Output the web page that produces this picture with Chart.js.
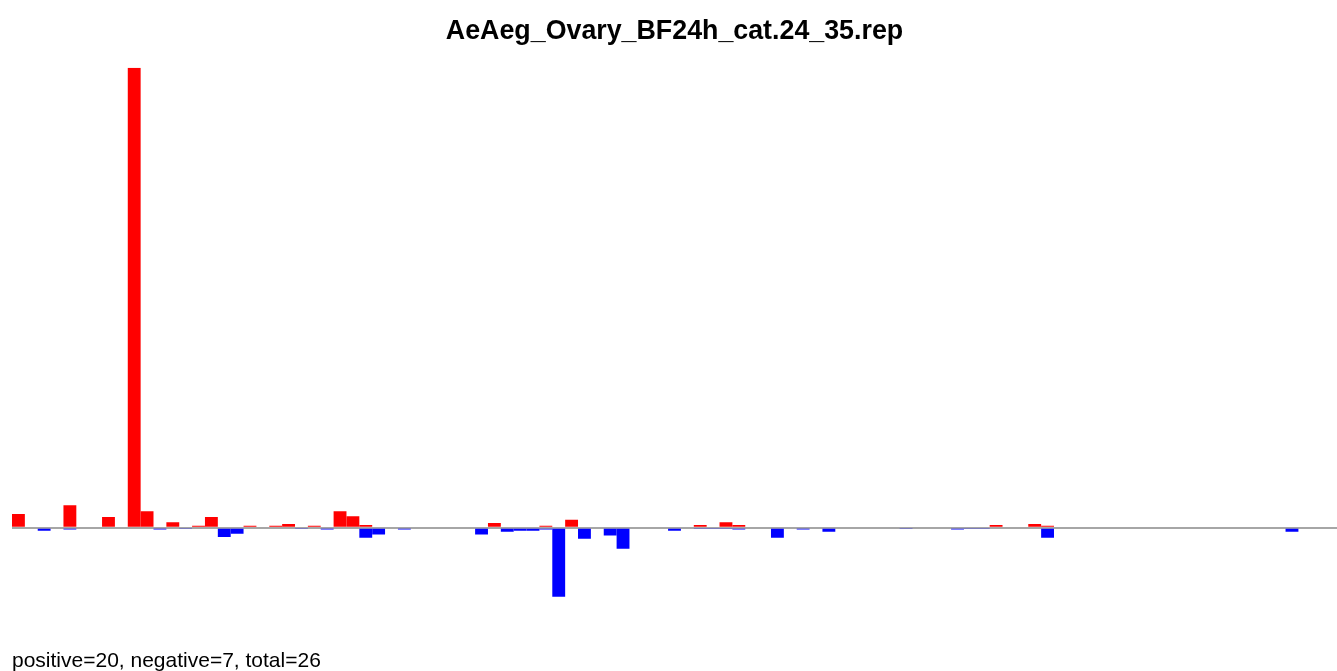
<!DOCTYPE html>
<html>
<head>
<meta charset="utf-8">
<title>AeAeg_Ovary_BF24h_cat.24_35.rep</title>
<script src="https://cdn.jsdelivr.net/npm/chart.js@4/dist/chart.umd.min.js"></script>
<style>
	body { margin: 0; background: #fff; }
	#wrap { width: 1337px; height: 671px; }
</style>
</head>
<body>
<div id="wrap"><canvas id="myChart" width="1337" height="671"></canvas></div>
<script>

// chart values (relative units, tallest bar = 100)
var titleText = 'AeAeg_Ovary_BF24h_cat.24_35.rep';
var footText = 'positive=20, negative=7, total=26';

var categories = [];
for (var i = 1; i <= 103; i++) categories.push(String(i));

var positive = [
	3.0, 0, 0, 0, 4.9, 0, 0, 2.3, 0, 100,
	3.6, 0, 1.2, 0.2, 0.4, 2.3, 0, 0, 0.4, 0,
	0.4, 0.8, 0, 0.4, 0, 3.6, 2.5, 0.6, 0, 0.2,
	0, 0, 0, 0, 0, 0, 0.2, 1.0, 0, 0,
	0, 0.4, 0, 1.7, 0, 0, 0, 0, 0, 0,
	0, 0, 0, 0.6, 0, 1.2, 0.6, 0, 0, 0,
	0, 0, 0, 0.2, 0, 0, 0, 0, 0, 0,
	0.2, 0, 0, 0, 0.2, 0, 0.6, 0, 0, 0.8,
	0.4, 0.2, 0, 0, 0, 0, 0, 0, 0, 0,
	0, 0, 0, 0, 0.2, 0, 0, 0, 0, 0,
	0, 0, 0
];

var negative = [
	0, 0, -0.65, 0, -0.4, 0, 0, 0, 0, 0,
	0, -0.4, 0, -0.3, 0, 0, -2.0, -1.3, 0, 0,
	0, 0, -0.2, 0, -0.4, 0, 0, -2.2, -1.5, 0,
	-0.4, 0, 0, 0, 0, 0, -1.5, 0, -0.9, -0.65,
	-0.65, -0.4, -15, 0, -2.4, 0, -1.7, -4.6, 0, 0,
	0, -0.65, 0, -0.3, -0.2, -0.2, -0.4, 0, 0, -2.2,
	0, -0.4, 0, -0.9, 0, 0, 0, 0, 0, -0.2,
	0, 0, 0, -0.4, -0.2, -0.2, 0, 0, 0, 0,
	-2.2, 0, 0, 0, 0, 0, 0, 0, 0, 0,
	0, 0, 0, 0, 0, 0, 0, 0, 0, -0.9,
	0, 0, 0
];

// empty slots are left out so no hairline bar is drawn there
function skipZero(arr) {
	return arr.map(function(v) { return v === 0 ? null : v; });
}

var ctx = document.getElementById('myChart').getContext('2d');
var chart = new Chart(ctx, {
	type: 'bar',
	data: {
		labels: categories,
		datasets: [{
			label: 'positive',
			data: skipZero(positive),
			backgroundColor: '#ff0000',
			borderWidth: 0,
			inflateAmount: 0
		}, {
			label: 'negative',
			data: skipZero(negative),
			backgroundColor: '#0000ff',
			borderWidth: 0,
			inflateAmount: 0
		}]
	},
	options: {
		responsive: false,
		animation: false,
		layout: {
			padding: { left: 12, right: 0, top: 0, bottom: 0 }
		},
		datasets: {
			bar: { barPercentage: 1, categoryPercentage: 1 }
		},
		scales: {
			x: {
				stacked: true,
				display: false
			},
			y: {
				stacked: true,
				min: -16,
				max: 100,
				z: 1,
				ticks: { display: false, stepSize: 10 },
				border: { display: false },
				grid: {
					drawTicks: false,
					lineWidth: 2,
					color: function(c) {
						return c.tick && c.tick.value === 0 ? '#a6a6a6' : 'rgba(0,0,0,0)';
					}
				}
			}
		},
		plugins: {
			legend: { display: false },
			tooltip: { enabled: false },
			title: {
				display: true,
				text: titleText,
				color: '#000',
				font: { family: 'Liberation Sans, Arial, sans-serif', size: 26.8, weight: 'bold', lineHeight: 1.2 },
				padding: { top: 15.9, bottom: 19.8 }
			},
			subtitle: {
				display: true,
				text: footText,
				position: 'bottom',
				align: 'start',
				color: '#000',
				font: { family: 'Liberation Sans, Arial, sans-serif', size: 21, weight: 'normal', lineHeight: 0.9 },
				padding: { top: 50.5, bottom: 0.35 }
			}
		}
	}
});

</script>
</body>
</html>
